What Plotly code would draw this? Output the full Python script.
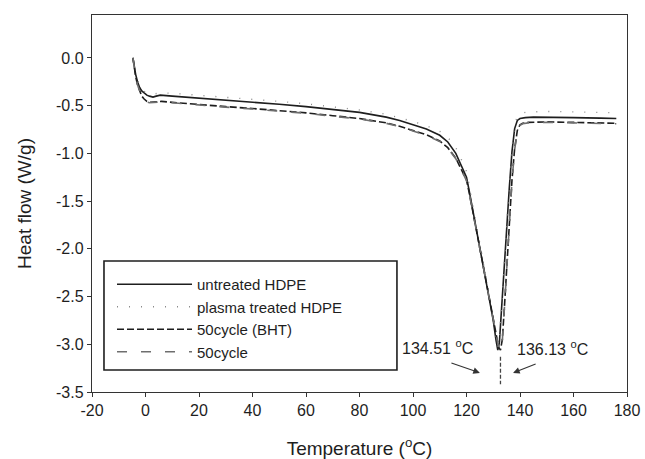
import plotly.graph_objects as go

# ---- data ----
untreated_T = [-4.7, -4.3, -3.7, -3.0, -2.2, -1.4, -0.5, 0.5, 1.5, 2.8, 4.0, 5.5, 10, 20, 30, 40, 50, 60, 70, 80, 90, 95, 100, 105, 110, 113, 116, 118, 120, 121, 122, 123, 124, 125, 126, 127, 128, 129, 130, 131, 131.7, 132.3, 133, 134, 135, 136, 137, 138, 139, 140, 142, 145, 150, 160, 170, 176]
untreated_H = [0.0, -0.08, -0.17, -0.25, -0.31, -0.345, -0.37, -0.39, -0.40, -0.41, -0.40, -0.39, -0.40, -0.42, -0.44, -0.46, -0.485, -0.51, -0.54, -0.57, -0.62, -0.655, -0.70, -0.745, -0.81, -0.88, -1.00, -1.12, -1.25, -1.39, -1.54, -1.69, -1.84, -1.98, -2.13, -2.29, -2.44, -2.59, -2.75, -2.95, -3.06, -2.98, -2.70, -2.25, -1.80, -1.36, -0.98, -0.74, -0.655, -0.635, -0.625, -0.62, -0.62, -0.625, -0.63, -0.635]

plasma_T = [-4.7, -4.3, -3.7, -3.0, -2.2, -1.4, -0.5, 0.5, 1.5, 2.8, 4.0, 5.5, 10, 20, 30, 40, 50, 60, 70, 80, 90, 95, 100, 105, 110, 113, 116, 118, 120, 121, 122, 123, 124, 125, 126, 127, 128, 129, 130, 131, 131.7, 132.3, 133, 134, 135, 136, 137, 138, 139, 140, 142, 145, 150, 160, 170, 176]
plasma_H = [0.0, -0.07, -0.15, -0.23, -0.29, -0.33, -0.35, -0.365, -0.375, -0.38, -0.37, -0.365, -0.37, -0.39, -0.41, -0.43, -0.455, -0.48, -0.51, -0.545, -0.59, -0.625, -0.665, -0.71, -0.77, -0.83, -0.94, -1.06, -1.19, -1.33, -1.48, -1.63, -1.78, -1.93, -2.08, -2.24, -2.40, -2.56, -2.72, -2.92, -3.03, -2.96, -2.68, -2.22, -1.76, -1.32, -0.94, -0.70, -0.61, -0.585, -0.57, -0.565, -0.56, -0.565, -0.57, -0.575]

bht_T = [-4.7, -4.3, -3.7, -3.0, -2.2, -1.4, -0.5, 0.5, 1.5, 3.0, 4.5, 6.0, 10, 20, 30, 40, 50, 60, 70, 80, 90, 95, 100, 105, 110, 113, 116, 118, 120, 121, 122, 123, 124, 125, 126, 127, 128, 129, 130, 131, 132, 132.7, 133.4, 134.2, 135, 136, 137, 138, 139, 140, 141, 143, 146, 150, 160, 170, 176]
bht_H = [0.0, -0.09, -0.19, -0.28, -0.35, -0.40, -0.43, -0.455, -0.465, -0.46, -0.455, -0.455, -0.465, -0.49, -0.51, -0.53, -0.55, -0.575, -0.605, -0.635, -0.68, -0.715, -0.76, -0.805, -0.87, -0.94, -1.05, -1.16, -1.28, -1.41, -1.55, -1.70, -1.85, -1.99, -2.14, -2.29, -2.44, -2.59, -2.74, -2.92, -3.03, -3.06, -2.95, -2.60, -2.20, -1.72, -1.28, -0.95, -0.76, -0.70, -0.685, -0.675, -0.67, -0.67, -0.675, -0.68, -0.685]

cyc_T = [-4.7, -4.3, -3.7, -3.0, -2.2, -1.4, -0.5, 0.5, 1.5, 3.0, 4.5, 6.0, 10, 20, 30, 40, 50, 60, 70, 80, 90, 95, 100, 105, 110, 113, 116, 118, 120, 121, 122, 123, 124, 125, 126, 127, 128, 129, 130, 131, 132, 132.7, 133.4, 134.2, 135, 136, 137, 138, 139, 140, 141, 143, 146, 150, 160, 170, 176]
cyc_H = [0.0, -0.09, -0.19, -0.28, -0.35, -0.40, -0.435, -0.46, -0.47, -0.465, -0.46, -0.46, -0.47, -0.495, -0.515, -0.535, -0.555, -0.58, -0.61, -0.64, -0.685, -0.72, -0.765, -0.81, -0.875, -0.945, -1.055, -1.165, -1.285, -1.415, -1.555, -1.705, -1.855, -1.995, -2.145, -2.295, -2.445, -2.595, -2.745, -2.925, -3.035, -3.065, -2.96, -2.61, -2.21, -1.73, -1.29, -0.96, -0.77, -0.705, -0.69, -0.68, -0.675, -0.675, -0.68, -0.685, -0.69]

# peak marker (vertical dashed line) and annotation values
peak_marker_T = [132.7, 132.7]
peak_marker_H = [-3.13, -3.42]
peak_labels = ["134.51 <sup>o</sup>C", "136.13 <sup>o</sup>C"]

x_ticks = [-20, 0, 20, 40, 60, 80, 100, 120, 140, 160, 180]
x_ticktext = ["-20", "0", "20", "40", "60", "80", "100", "120", "140", "160", "180"]
y_ticks = [0.0, -0.5, -1.0, -1.5, -2.0, -2.5, -3.0, -3.5]
y_ticktext = ["0.0", "-0.5", "-1.0", "-1.5", "-2.0", "-2.5", "-3.0", "-3.5"]

FONT = "Liberation Sans, Arial, sans-serif"
INK = "#1e1e1e"

fig = go.Figure()
fig.add_trace(go.Scatter(x=untreated_T, y=untreated_H, mode="lines", name="untreated HDPE",
                         line=dict(color=INK, width=1.6)))
fig.add_trace(go.Scatter(x=plasma_T, y=plasma_H, mode="lines", name="plasma treated HDPE",
                         line=dict(color="#8a8a8a", width=1.4, dash="1px,11px")))
fig.add_trace(go.Scatter(x=bht_T, y=bht_H, mode="lines", name="50cycle (BHT)",
                         line=dict(color=INK, width=1.6, dash="7px,3px")))
fig.add_trace(go.Scatter(x=cyc_T, y=cyc_H, mode="lines", name="50cycle",
                         line=dict(color="#6e6e6e", width=1.6, dash="10px,14px")))
fig.add_trace(go.Scatter(x=peak_marker_T, y=peak_marker_H, mode="lines", showlegend=False,
                         line=dict(color="#444444", width=1.3, dash="4px,2px")))

fig.add_annotation(x=125.0, y=-3.30, ax=113.8, ay=-3.19, xref="x", yref="y", axref="x", ayref="y",
                   text="", showarrow=True, arrowhead=2, arrowsize=1.2, arrowwidth=1.1, arrowcolor="#333")
fig.add_annotation(x=137.4, y=-3.30, ax=146.4, ay=-3.20, xref="x", yref="y", axref="x", ayref="y",
                   text="", showarrow=True, arrowhead=2, arrowsize=1.2, arrowwidth=1.1, arrowcolor="#333")
fig.add_annotation(x=109, y=-3.03, text=peak_labels[0], showarrow=False,
                   font=dict(family=FONT, size=16, color=INK))
fig.add_annotation(x=152, y=-3.04, text=peak_labels[1], showarrow=False,
                   font=dict(family=FONT, size=16, color=INK))

# legend frame
fig.add_shape(type="rect", xref="paper", yref="paper", x0=0.0224, x1=0.570, y0=0.0584, y1=0.3475,
              line=dict(color=INK, width=1.6), fillcolor="rgba(0,0,0,0)", layer="above")

fig.update_layout(
    width=645, height=459,
    margin=dict(l=92, r=18, t=15, b=67),
    paper_bgcolor="white", plot_bgcolor="white",
    font=dict(family=FONT, size=16, color=INK),
    legend=dict(x=0.0374, y=0.329, xanchor="left", yanchor="top",
                borderwidth=0, bgcolor="rgba(255,255,255,0)",
                itemwidth=75,
                font=dict(family=FONT, size=15, color=INK), tracegroupgap=0),
    xaxis=dict(range=[-20, 180], tickvals=x_ticks, ticktext=x_ticktext, automargin=False,
               showgrid=False, zeroline=False, showline=True, linecolor="#333", linewidth=1.4,
               mirror=True, ticks="outside", ticklen=4, tickcolor="#333",
               tickfont=dict(size=16),
               title=dict(text="Temperature (<sup>o</sup>C)", font=dict(size=19), standoff=24)),
    yaxis=dict(range=[-3.5, 0.45], tickvals=y_ticks, ticktext=y_ticktext, automargin=False,
               showgrid=False, zeroline=False, showline=True, linecolor="#333", linewidth=1.4,
               mirror=True, ticks="outside", ticklen=4, tickcolor="#333",
               tickfont=dict(size=16),
               title=dict(text="Heat flow (W/g)", font=dict(size=19), standoff=19)),
)

fig.write_html("out.html", config={"displayModeBar": False},
               post_script="document.body.style.margin='0';document.body.style.overflow='hidden';")
